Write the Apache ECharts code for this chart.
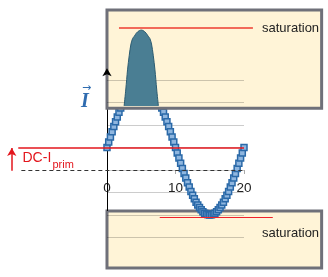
<!DOCTYPE html>
<html><head><meta charset="utf-8">
<script src="https://cdn.jsdelivr.net/npm/echarts@6/dist/echarts.min.js"></script>
<style>html,body{margin:0;padding:0;background:#fff}#c{width:328px;height:277px}</style>
</head><body><div id="c"></div>
<script>
// ---- data ----
const waveX = [0,0.25,0.5,0.75,1,1.25,1.5,1.75,2,2.25,2.5,2.75,3,3.25,3.5,3.75,4,4.25,4.5,4.75,5,5.25,5.5,5.75,6,6.25,6.5,6.75,7,7.25,7.5,7.75,8,8.25,8.5,8.75,9,9.25,9.5,9.75,10,10.25,10.5,10.75,11,11.25,11.5,11.75,12,12.25,12.5,12.75,13,13.25,13.5,13.75,14,14.25,14.5,14.75,15,15.25,15.5,15.75,16,16.25,16.5,16.75,17,17.25,17.5,17.75,18,18.25,18.5,18.75,19,19.25,19.5,19.75,20];
const waveY = [1.00,1.24,1.47,1.70,1.93,2.15,2.36,2.57,2.76,2.95,3.12,3.28,3.43,3.56,3.67,3.77,3.85,3.92,3.96,3.99,4.00,3.99,3.96,3.92,3.85,3.77,3.67,3.56,3.43,3.28,3.12,2.95,2.76,2.57,2.36,2.15,1.93,1.70,1.47,1.24,1.00,0.76,0.53,0.30,0.07,-0.15,-0.36,-0.57,-0.76,-0.95,-1.12,-1.28,-1.43,-1.56,-1.67,-1.77,-1.85,-1.92,-1.96,-1.99,-2.00,-1.99,-1.96,-1.92,-1.85,-1.77,-1.67,-1.56,-1.43,-1.28,-1.12,-0.95,-0.76,-0.57,-0.36,-0.15,0.07,0.30,0.53,0.76,1.00];
const satX = [2.5,2.75,3,3.25,3.5,3.75,4,4.25,4.5,4.75,5,5.25,5.5,5.75,6,6.25,6.5,6.75,7,7.25,7.5];
const satY = [2.85,3.6,4.45,5.1,5.6,5.85,5.95,6.07,6.15,6.2,6.22,6.2,6.15,6.07,5.95,5.85,5.6,5.1,4.45,3.6,2.85];
const gridValues = [4,3,2,1,0,-1,-2,-3];
const xTickLabels = [0,10,20];
const dcLevel = 1;
const satTopLevel = 6.31;
const satBottomLevel = -2.1;

// ---- chart ----
const chart = echarts.init(document.getElementById('c'), null, {renderer:'canvas'});
const pairs = (xs, ys) => xs.map((x,i)=>[x, ys[i]]);
const hline = (v, x0, x1) => [{coord:[x0, v]}, {coord:[x1, v]}];
const boxStyle = {color:'#fff4d7', borderColor:'#6f7079', borderWidth:3};
const gridLineStyle = {color:'rgba(0,0,0,0.2)', width:1, type:'solid'};
const TOP_BOX = [2.74, 7.11], BOT_BOX = [-4.36, -1.82], BOX_X = [0, 31.33];
const ml = (z, data, lineStyle, extra) => Object.assign({
  z, silent:true, symbol:['none','none'], label:{show:false}, emphasis:{disabled:true},
  animation:false, lineStyle, data}, extra||{});

const GRID_TOP = 1.25, GRID_H = 270, Y_MIN = -4.5, Y_MAX = 7.5;
// x axis sits at y = 0: distance from grid bottom to the zero line
const zeroOffset = -GRID_H * (0 - Y_MIN) / (Y_MAX - Y_MIN);

const option = {
  animation:false,
  grid:{left:0.8, top:GRID_TOP, width:322, height:GRID_H, containLabel:false, outerBoundsMode:'none'},
  xAxis:{type:'value', min:-15.5, max:31.5, position:'bottom', offset:zeroOffset,
    axisLine:{show:false, onZero:false},
    axisTick:{show:true, customValues:xTickLabels, length:4, lineStyle:{color:'#aaa'}},
    axisLabel:{customValues:xTickLabels, margin:11, fontSize:13.5, color:'#222', fontFamily:'"Liberation Sans", Arial'},
    splitLine:{show:false}},
  yAxis:{type:'value', min:Y_MIN, max:Y_MAX, show:false},
  series:[
    {type:'line', data:[], z:1,
      markArea:{z:1, silent:true, itemStyle:boxStyle, label:{show:false},
        data:[[{coord:[BOX_X[0], BOT_BOX[1]]},{coord:[BOX_X[1], BOT_BOX[0]]}]]}},
    {type:'line', data:[], z:2,
      markLine: ml(2, [[{coord:[0, BOT_BOX[1]]},{coord:[0, TOP_BOX[0]]}]], {color:'#000', width:1, type:'solid'})},
    {type:'line', data:[], z:3,
      markLine: ml(3, gridValues.filter(v=>v<TOP_BOX[0]).map(v=>hline(v,0,20)), gridLineStyle)},
    {type:'line', name:'I', data:pairs(waveX, waveY), z:4,
      showSymbol:true, symbol:'rect', symbolSize:6,
      itemStyle:{color:'#8fb6df', borderColor:'#2a69a8', borderWidth:1.5},
      lineStyle:{color:'#2a69a8', width:2}},
    {type:'line', data:[], z:5,
      markArea:{z:5, silent:true, itemStyle:boxStyle, label:{show:false},
        data:[[{coord:[BOX_X[0], TOP_BOX[1]]},{coord:[BOX_X[1], TOP_BOX[0]]}]]}},
    {type:'line', data:[], z:6,
      markLine: ml(6, gridValues.filter(v=>v>TOP_BOX[0]).map(v=>hline(v,0,20)), gridLineStyle)},
    {type:'line', name:'saturation', data:pairs(satX, satY), z:7, smooth:0.3,
      showSymbol:false, lineStyle:{color:'#2c5c72', width:1},
      areaStyle:{color:'#4a7e93', opacity:1, origin:2.84}},
    {type:'line', data:[], z:8,
      markLine: ml(8, [hline(satTopLevel, 1.75, 21.3)], {color:'#f26a5a', width:2, type:'solid'})},
    {type:'line', data:[], z:8,
      markLine: ml(8, [hline(satBottomLevel, 7.7, 24.2)], {color:'#f0222a', width:1.2, type:'solid'})},
    {type:'line', data:[], z:8,
      markLine: ml(8, [hline(0, -12.5, 20)], {color:'#333', width:1, type:[4,3]})},
    {type:'line', data:[], z:9,
      markLine: ml(9, [hline(dcLevel, -12.95, 20)], {color:'#e3161d', width:1.5, type:'solid'})},
    {type:'line', data:[], z:9,
      markLine: ml(9, [[{coord:[-13.9, -0.03]},{coord:[-13.9, 0.98]}]], {color:'#e3161d', width:1.5, type:'solid'},
        {symbol:['none','arrow'], symbolSize:[7,8]}),
      markPoint:{z:9, silent:true, symbol:'arrow', symbolSize:[7,8], itemStyle:{color:'#000'}, label:{show:false},
        data:[{coord:[0, 4.52]}]}}
  ],
  graphic:[
    {type:'text', z:20, x:262, y:28, style:{text:'saturation', fill:'#222', font:'13px "Liberation Sans", Arial', align:'left', verticalAlign:'middle'}},
    {type:'text', z:20, x:262, y:233, style:{text:'saturation', fill:'#222', font:'13px "Liberation Sans", Arial', align:'left', verticalAlign:'middle'}},
    {type:'text', z:20, x:22.5, y:158, style:{text:'DC-I', fill:'#e3161d', font:'14px "Liberation Sans", Arial', align:'left', verticalAlign:'middle'}},
    {type:'text', z:20, x:52.5, y:164.5, style:{text:'prim', fill:'#e3161d', font:'11px "Liberation Sans", Arial', align:'left', verticalAlign:'middle'}},
    {type:'text', z:20, x:85, y:101.5, style:{text:'I', fill:'#2f6cb0', font:'italic bold 20px "Liberation Serif", serif', align:'center', verticalAlign:'middle'}},
    {type:'text', z:20, x:86.5, y:88, style:{text:'→', fill:'#2f6cb0', font:'11px "DejaVu Sans"', align:'center', verticalAlign:'middle'}}
  ]
};
chart.setOption(option);
</script>
</body></html>
